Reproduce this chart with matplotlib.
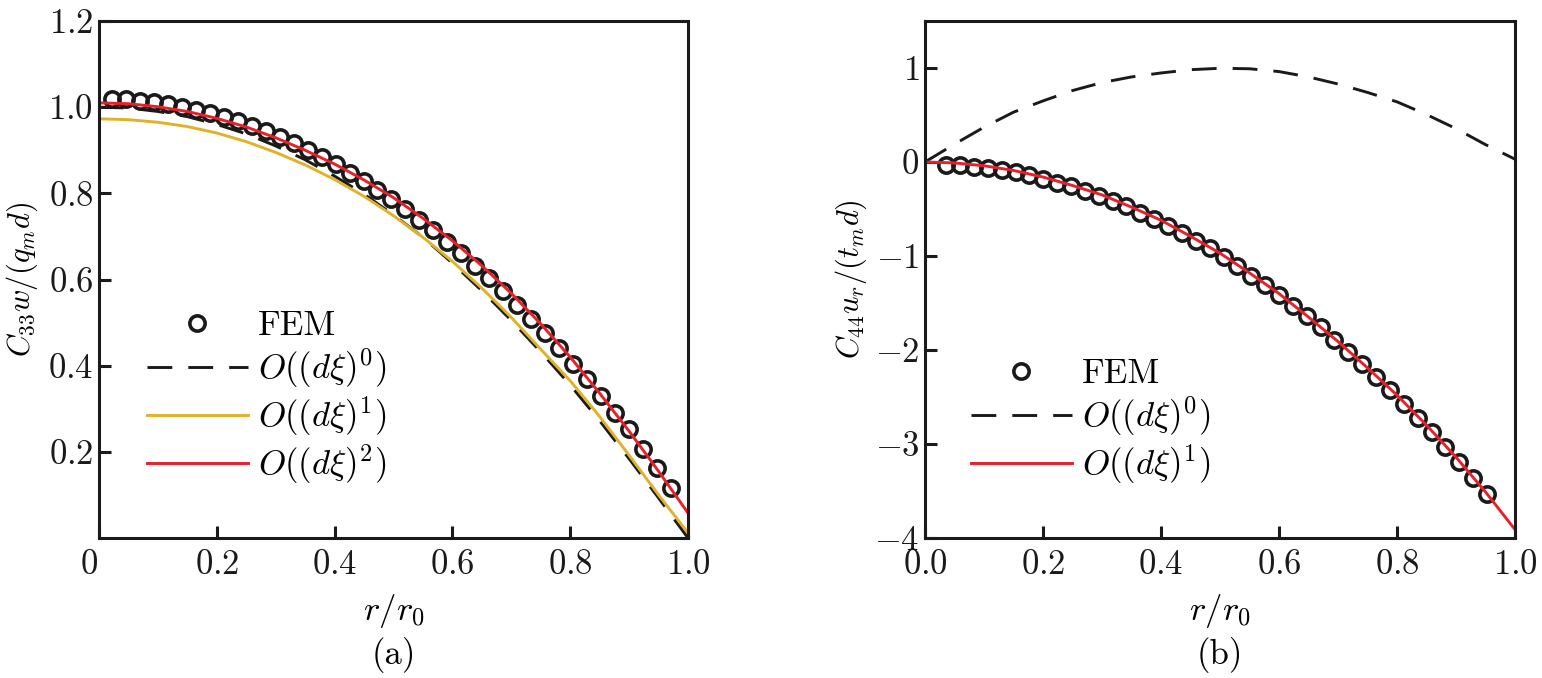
import numpy as np
import matplotlib
matplotlib.use("Agg")
import matplotlib.pyplot as plt
from matplotlib.transforms import ScaledTranslation

plt.rcParams['font.family'] = 'serif'
plt.rcParams['font.serif'] = ['cmr10', 'DejaVu Serif']
plt.rcParams['mathtext.fontset'] = 'cm'
plt.rcParams['axes.formatter.use_mathtext'] = True

# ---- panel (a) : C33 w/(q_m d) ----
r_line = [0.0, 0.05, 0.1, 0.15, 0.2, 0.25, 0.3, 0.35, 0.4, 0.45, 0.5,
          0.55, 0.6, 0.65, 0.7, 0.75, 0.8, 0.85, 0.9, 0.95, 1.0]
a_ord0 = [1.000, 0.998, 0.990, 0.978, 0.960, 0.938, 0.910, 0.878, 0.840, 0.798, 0.750,
          0.698, 0.638, 0.574, 0.505, 0.432, 0.355, 0.272, 0.184, 0.093, 0.000]
a_ord1 = [0.973, 0.971, 0.965, 0.955, 0.940, 0.920, 0.895, 0.866, 0.832, 0.793, 0.748,
          0.698, 0.642, 0.580, 0.512, 0.438, 0.365, 0.282, 0.192, 0.100, 0.012]
a_ord2 = [1.010, 1.008, 1.001, 0.990, 0.974, 0.954, 0.929, 0.900, 0.868, 0.831, 0.790,
          0.742, 0.690, 0.632, 0.568, 0.497, 0.420, 0.336, 0.248, 0.155, 0.058]

a_fem_r = [0.0225, 0.0462, 0.0699, 0.0936, 0.1173, 0.1410, 0.1647, 0.1884, 0.2121, 0.2358,
           0.2595, 0.2832, 0.3069, 0.3306, 0.3543, 0.3780, 0.4017, 0.4254, 0.4491, 0.4728,
           0.4965, 0.5202, 0.5439, 0.5676, 0.5913, 0.6150, 0.6387, 0.6624, 0.6861, 0.7098,
           0.7335, 0.7572, 0.7809, 0.8046, 0.8283, 0.8520, 0.8757, 0.8994, 0.9231, 0.9468,
           0.9705]
a_fem = [1.020, 1.018, 1.015, 1.012, 1.007, 1.001, 0.994, 0.986, 0.977, 0.967,
         0.956, 0.944, 0.931, 0.916, 0.901, 0.884, 0.867, 0.848, 0.828, 0.808,
         0.786, 0.763, 0.739, 0.714, 0.688, 0.661, 0.632, 0.603, 0.573, 0.541,
         0.509, 0.475, 0.441, 0.405, 0.368, 0.330, 0.291, 0.252, 0.207, 0.162,
         0.115]

# ---- panel (b) : C44 u_r/(t_m d) ----
b_ord0 = [0.00, 0.19, 0.37, 0.53, 0.65, 0.76, 0.845, 0.905, 0.947, 0.982, 0.997,
          0.992, 0.962, 0.905, 0.83, 0.74, 0.64, 0.505, 0.355, 0.185, 0.03]
b_ord1 = [0.00, -0.01, -0.04, -0.09, -0.16, -0.25, -0.35, -0.48, -0.62, -0.79, -0.97,
          -1.18, -1.40, -1.65, -1.91, -2.19, -2.48, -2.80, -3.14, -3.51, -3.91]

b_fem_r = [0.0360, 0.0595, 0.0830, 0.1065, 0.1300, 0.1535, 0.1770, 0.2005, 0.2240, 0.2475,
           0.2710, 0.2945, 0.3180, 0.3415, 0.3650, 0.3885, 0.4120, 0.4355, 0.4590, 0.4825,
           0.5060, 0.5295, 0.5530, 0.5765, 0.6000, 0.6235, 0.6470, 0.6705, 0.6940, 0.7175,
           0.7410, 0.7645, 0.7880, 0.8115, 0.8350, 0.8585, 0.8820, 0.9055, 0.9290, 0.9525]
b_fem = [-0.03, -0.03, -0.05, -0.06, -0.09, -0.11, -0.14, -0.18, -0.22, -0.26,
         -0.31, -0.36, -0.41, -0.47, -0.54, -0.61, -0.68, -0.76, -0.84, -0.92,
         -1.01, -1.11, -1.21, -1.31, -1.42, -1.53, -1.64, -1.76, -1.89, -2.02,
         -2.15, -2.29, -2.43, -2.57, -2.72, -2.87, -3.03, -3.19, -3.36, -3.53]

red = '#e8202a'
gold = '#e0b22a'
black = '#1a1a1a'
fs = 25
dash = (0, (8.5, 5.5))

fig = plt.figure(figsize=(15.42, 6.78), dpi=100)
axa = fig.add_axes([99 / 1542, 1 - 538 / 678, 589 / 1542, 517 / 678])
axb = fig.add_axes([925 / 1542, 1 - 538 / 678, 590 / 1542, 517 / 678])

fem_kw = dict(ls='none', marker='o', ms=11, mfc='none', mec=black, mew=2.6)

axa.plot(a_fem_r, a_fem, label='FEM', **fem_kw)
axa.plot(r_line, a_ord0, color=black, lw=2.1, ls=dash, label=r'$O((d\xi)^0)$')
axa.plot(r_line, a_ord1, color=gold, lw=2.1, label=r'$O((d\xi)^1)$')
axa.plot(r_line, a_ord2, color=red, lw=2.1, label=r'$O((d\xi)^2)$')

axb.plot(b_fem_r, b_fem, label='FEM', **fem_kw)
axb.plot(r_line, b_ord0, color=black, lw=2.1, ls=dash, label=r'$O((d\xi)^0)$')
axb.plot(r_line, b_ord1, color=red, lw=2.1, label=r'$O((d\xi)^1)$')

axa.set_xlim(0, 1)
axa.set_ylim(0, 1.2)
axa.set_xticks([0, 0.2, 0.4, 0.6, 0.8, 1.0])
axa.set_xticklabels(['$0$', '$0.2$', '$0.4$', '$0.6$', '$0.8$', '$1.0$'])
axa.set_yticks([0.2, 0.4, 0.6, 0.8, 1.0, 1.2])
axa.set_yticklabels(['$0.2$', '$0.4$', '$0.6$', '$0.8$', '$1.0$', '$1.2$'])

axb.set_xlim(0, 1)
axb.set_ylim(-4, 1.5)
axb.set_xticks([0, 0.2, 0.4, 0.6, 0.8, 1.0])
axb.set_xticklabels(['$0.0$', '$0.2$', '$0.4$', '$0.6$', '$0.8$', '$1.0$'])
axb.set_yticks([-4, -3, -2, -1, 0, 1])
axb.set_yticklabels(['$-4$', '$-3$', '$-2$', '$-1$', '$0$', '$1$'])

for ax in (axa, axb):
    for s in ax.spines.values():
        s.set_linewidth(2.2)
        s.set_color(black)
    ax.tick_params(direction='in', length=8.5, width=2.2, labelsize=fs,
                   top=False, right=False, colors=black)
    ax.tick_params(axis='x', pad=8)
    ax.tick_params(axis='y', pad=4)
    ax.set_xlabel(r'$r/r_0$', fontsize=fs, labelpad=8)

# the "0" label of panel (a) sits left of the spine
lab0 = axa.get_xticklabels()[0]
lab0.set_transform(lab0.get_transform() + ScaledTranslation(-10 / 100, 0, fig.dpi_scale_trans))

axa.set_ylabel(r'$C_{33}w/(q_m d)$', fontsize=22, labelpad=6)
axb.set_ylabel(r'$C_{44}u_r/(t_m d)$', fontsize=22, labelpad=4)

leg_kw = dict(frameon=False, fontsize=fs, handlelength=2.9, handletextpad=0.3,
              labelspacing=0.13, borderpad=0, borderaxespad=0, numpoints=1,
              loc='upper left')
axa.legend(bbox_to_anchor=(0.0815, 0.44), **leg_kw)
axb.legend(bbox_to_anchor=(0.078, 0.348), **leg_kw)

fig.text((99 + 688) / 2 / 1542, 1 - 655 / 678, '(a)', fontsize=fs, ha='center', va='center')
fig.text((925 + 1515) / 2 / 1542, 1 - 655 / 678, '(b)', fontsize=fs, ha='center', va='center')

fig.savefig('out.png', dpi=100)
